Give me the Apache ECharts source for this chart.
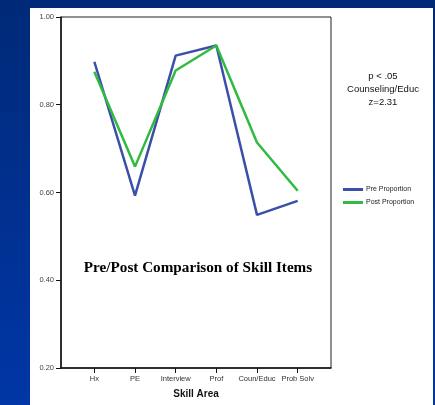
<!DOCTYPE html>
<html>
<head>
<meta charset="utf-8">
<script src="https://cdn.jsdelivr.net/npm/echarts@6/dist/echarts.min.js"></script>
<style>html,body{margin:0;padding:0;}#c{width:435px;height:405px;}</style>
</head>
<body>
<div id="c"></div>
<script>
const categories = ['Hx', 'PE', 'Interview', 'Prof', 'Coun/Educ', 'Prob Solv'];
const preProportion = [0.898, 0.593, 0.912, 0.935, 0.549, 0.581];
const postProportion = [0.875, 0.659, 0.878, 0.935, 0.714, 0.604];
const yTicks = [0.20, 0.40, 0.60, 0.80, 1.00];
const annotationLines = ['p < .05', 'Counseling/Educ', 'z=2.31'];

const chart = echarts.init(document.getElementById('c'));
const idx = categories.map((_, i) => i);
chart.setOption({
  animation: false,
  backgroundColor: {
    type: 'linear', x: 0, y: 0, x2: 0, y2: 1,
    colorStops: [{offset: 0, color: '#002a78'}, {offset: 1, color: '#0036a6'}]
  },
  graphic: [
    {type: 'rect', z: -10, shape: {x: 30, y: 8, width: 403, height: 400}, style: {fill: '#ffffff'}},
    {type: 'text', z: 10,
      style: {x: 198, y: 268, text: 'Pre/Post Comparison of Skill Items', fontFamily: 'Liberation Serif', fontWeight: 'bold', fontSize: 15.2, fill: '#000', align: 'center', verticalAlign: 'middle'}},
    {type: 'text', z: 10,
      style: {x: 383, y: 89, text: annotationLines.join('\n'), fontFamily: 'Liberation Sans', fontSize: 9.5, lineHeight: 13, fill: '#111', align: 'center', verticalAlign: 'middle'}}
  ],
  grid: {left: 61, top: 17, right: 104, bottom: 37, show: true, borderColor: '#222', borderWidth: 1, backgroundColor: 'transparent'},
  legend: {
    orient: 'vertical', left: 338, top: 181, itemWidth: 20, itemHeight: 3, itemGap: 6,
    icon: 'rect',
    textStyle: {fontFamily: 'Liberation Sans', fontSize: 7, color: '#222', padding: [0, 0, 0, -2]},
    data: ['Pre Proportion', 'Post Proportion']
  },
  xAxis: {
    type: 'value', min: -0.82, max: 5.82,
    name: 'Skill Area', nameLocation: 'middle', nameGap: 21,
    nameTextStyle: {fontFamily: 'Liberation Sans', fontWeight: 'bold', fontSize: 10, color: '#111'},
    axisLine: {onZero: false, lineStyle: {color: '#111', width: 1.5}},
    axisTick: {show: true, length: 5, lineStyle: {color: '#111'}, customValues: idx},
    axisLabel: {customValues: idx, formatter: v => categories[Math.round(v)] || '', fontFamily: 'Liberation Sans', fontSize: 7.5, color: '#333', margin: 7},
    splitLine: {show: false}
  },
  yAxis: {
    type: 'value', min: 0.2, max: 1.0, interval: 0.2,
    axisLine: {show: true, onZero: false, lineStyle: {color: '#111', width: 1.5}},
    axisTick: {show: true, length: 5, lineStyle: {color: '#111'}},
    axisLabel: {formatter: v => v.toFixed(2), fontFamily: 'Liberation Sans', fontSize: 7.5, color: '#444', margin: 7},
    splitLine: {show: false}
  },
  series: [
    {name: 'Pre Proportion', type: 'line', data: preProportion.map((v, i) => [i, v]), symbol: 'none', lineStyle: {color: '#3a50a8', width: 2.5}, itemStyle: {color: '#3a50a8'}},
    {name: 'Post Proportion', type: 'line', data: postProportion.map((v, i) => [i, v]), symbol: 'none', lineStyle: {color: '#30bb40', width: 2.5}, itemStyle: {color: '#30bb40'}}
  ]
});
</script>
</body>
</html>
